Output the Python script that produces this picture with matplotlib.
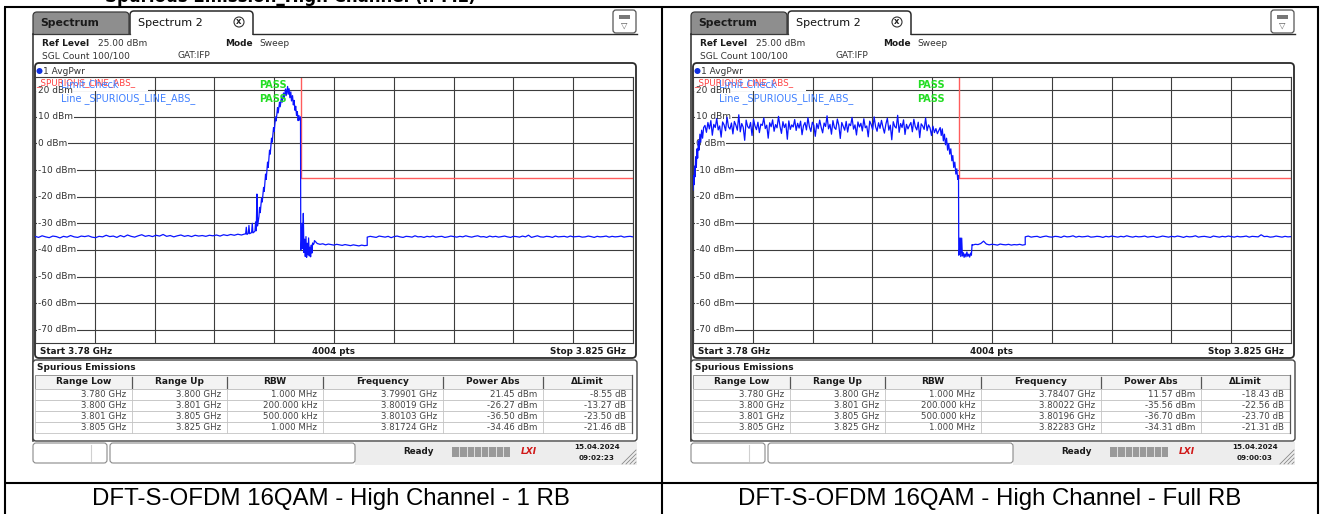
import numpy as np
import matplotlib.pyplot as plt
from matplotlib.patches import FancyBboxPatch, Rectangle, Circle
from matplotlib.transforms import blended_transform_factory

plt.rcParams['font.family'] = ['DejaVu Sans']

W, H = 1320, 514
F0, F1 = 3.780, 3.825          # GHz, start / stop
REF, BOTTOM = 25, -75          # dBm, top / bottom of grid
DB_TICKS = list(range(20, -80, -10))

captions = ['DFT-S-OFDM 16QAM - High Channel - 1 RB',
            'DFT-S-OFDM 16QAM - High Channel - Full RB']

# -- limit line _SPURIOUS_LINE_ABS_ --
lim_f = [3.780, 3.800, 3.800, 3.825]
lim_l = [30, 30, -13, -13]

# -- table (same ranges both screens) --
col_names = ['Range Low', 'Range Up', 'RBW', 'Frequency', 'Power Abs', '\u0394Limit']
range_low = ['3.780 GHz', '3.800 GHz', '3.801 GHz', '3.805 GHz']
range_up = ['3.800 GHz', '3.801 GHz', '3.805 GHz', '3.825 GHz']
rbw = ['1.000 MHz', '200.000 kHz', '500.000 kHz', '1.000 MHz']

rb1_peak_freq = ['3.79901 GHz', '3.80019 GHz', '3.80103 GHz', '3.81724 GHz']
rb1_power = [21.45, -26.27, -36.50, -34.46]
rb1_delta = [-8.55, -13.27, -23.50, -21.46]

full_peak_freq = ['3.78407 GHz', '3.80022 GHz', '3.80196 GHz', '3.82283 GHz']
full_power = [11.57, -35.56, -36.70, -34.31]
full_delta = [-18.43, -22.56, -23.70, -21.31]

# -- 1 RB trace --
rb1_floor_lo = [-34.9, -35.3, -34.7, -35.1, -35.4, -34.8, -35.0, -35.5, -34.9, -35.2,
                -34.6, -35.1, -35.3, -34.8, -35.0, -34.7, -35.2, -35.4, -34.9, -35.1,
                -34.5, -35.0, -34.8, -35.3, -34.6, -35.1, -34.4, -34.9, -35.2, -34.7,
                -34.3, -34.9, -34.6, -35.0, -34.5, -34.8, -34.2, -34.9, -34.6, -35.1,
                -34.7, -34.4, -34.9, -34.6, -35.0, -34.5, -34.8, -34.6, -34.9, -34.5,
                -34.7, -34.4, -34.8, -34.3, -34.6, -34.2, -34.5, -34.1, -34.4, -34.0]
rb1_edge_f = [3.79585, 3.79590, 3.79595, 3.79605, 3.79610, 3.79615, 3.79630, 3.79635,
              3.79640, 3.79655, 3.79660, 3.79665, 3.79670, 3.79675, 3.79685, 3.79690,
              3.79695, 3.79705, 3.79710, 3.79720, 3.79725, 3.79735, 3.79740, 3.79750,
              3.79755, 3.79765, 3.79770, 3.79780, 3.79785, 3.79795, 3.79800, 3.79810,
              3.79815, 3.79825, 3.79830, 3.79840, 3.79845, 3.79855, 3.79860, 3.79870,
              3.79875, 3.79885, 3.79890, 3.79901, 3.79905, 3.79912, 3.79918, 3.79925,
              3.79930, 3.79938, 3.79944, 3.79950, 3.79956, 3.79962, 3.79968, 3.79974,
              3.79980, 3.79986, 3.79992, 3.79998, 3.80000, 3.80005, 3.80010, 3.80015,
              3.80019, 3.80024, 3.80029, 3.80034, 3.80039, 3.80044, 3.80049, 3.80054,
              3.80059, 3.80064, 3.80069, 3.80074, 3.80079, 3.80084, 3.80089, 3.80095,
              3.80100]
rb1_edge_l = [-34.0, -31.5, -34.2, -33.8, -30.8, -33.9, -33.5, -30.0,
              -33.6, -33.0, -29.5, -32.8, -19.0, -31.0, -27.5, -24.0,
              -26.0, -20.5, -22.0, -16.5, -18.0, -11.5, -13.5, -7.0,
              -9.0, -2.5, -4.0, 2.0, 0.5, 6.0, 4.5, 10.0,
              8.5, 13.5, 11.5, 15.5, 13.8, 17.5, 15.5, 19.0,
              17.0, 20.5, 18.0, 21.45, 18.5, 20.6, 17.2, 19.4,
              16.0, 18.0, 14.5, 16.2, 12.5, 14.0, 10.5, 12.0,
              8.6, 10.5, 8.8, 10.0, -40.0, -38.5, -30.0, -39.5,
              -26.27, -41.0, -36.0, -42.5, -35.0, -42.8, -37.5, -41.8,
              -35.5, -42.3, -39.0, -42.6, -38.2, -41.2, -37.4, -38.0,
              -37.5]
rb1_mid = [-36.5, -37.6, -37.9, -37.7, -38.1, -37.8, -38.0, -38.2, -37.9, -38.1,
           -38.3, -38.0, -38.2, -38.4, -38.1, -38.3, -38.5, -38.2, -38.4, -38.3]
rb1_floor_hi = [-35.2, -34.9, -35.1, -35.3, -34.8, -35.0, -35.2, -34.9, -35.4, -35.0,
                -34.8, -35.1, -35.3, -34.9, -35.0, -35.2, -34.7, -35.1, -35.0, -35.3,
                -34.9, -35.1, -34.8, -35.2, -35.0, -34.9, -35.3, -35.1, -34.8, -35.0,
                -35.2, -34.9, -35.1, -34.7, -35.0, -35.2, -34.9, -34.7, -35.1, -35.0,
                -35.3, -34.8, -35.1, -34.9, -35.2, -35.0, -34.8, -35.1, -35.3, -34.9,
                -35.0, -35.2, -34.8, -35.1, -34.46, -35.3, -35.0, -34.7, -35.1, -35.2,
                -34.9, -35.0, -35.3, -34.8, -35.1, -35.0, -34.9, -35.2, -34.8, -35.1,
                -35.0, -34.9, -35.2, -35.1, -34.8, -35.0, -35.3, -34.9, -35.1, -35.0,
                -34.8, -35.2, -34.9, -35.1, -35.0, -34.8, -35.2, -35.0, -34.9, -35.1]

# -- Full RB trace --
full_rise_f = [3.78000, 3.78004, 3.78008, 3.78012, 3.78016, 3.78020, 3.78025, 3.78030,
               3.78035, 3.78040, 3.78045, 3.78052, 3.78058, 3.78065, 3.78072, 3.78080]
full_rise_l = [-17.5, -12.0, -15.5, -8.5, -12.5, -5.0, -9.0, -2.0,
               -5.5, 1.0, -2.5, 3.5, 0.5, 5.0, 2.0, 6.0]
full_plateau = [6.8, 4.2, 7.9, 5.5, 8.6, 3.1, 7.2, 6.0, 9.4, 5.1, 6.6, 2.4, 8.1, 7.0, 4.8, 9.9, 6.2, 5.4, 7.7, 3.6,
                8.3, 6.9, 5.0, 10.8, 4.4, 7.5, 6.1, 1.2, 8.8, 6.4, 5.7, 7.9, 3.0, 9.1, 6.6, 5.2, 8.0, 4.1, 7.3, 6.8,
                9.6, 5.6, 6.9, 2.0, 7.8, 6.3, 8.9, 4.6, 7.1, 5.9, 10.2, 6.5, 3.8, 8.2, 6.0, 7.4, 1.6, 8.5, 5.3, 7.0,
                6.2, 9.0, 4.9, 7.6, 5.8, 8.4, 3.3, 6.7, 7.9, 5.1, 9.7, 6.3, 4.5, 8.0, 6.9, 2.7, 7.5, 5.6, 8.8, 6.1,
                4.0, 7.7, 6.4, 10.4, 5.5, 7.2, 3.5, 8.6, 6.0, 5.3, 9.2, 6.8, 1.9, 7.9, 6.5, 5.0, 8.3, 4.3, 7.4, 6.7,
                9.8, 5.4, 7.0, 3.2, 8.1, 6.2, 7.6, 4.7, 9.3, 5.9, 6.6, 2.5, 8.4, 7.1, 5.2, 10.0, 6.3, 4.6, 7.8, 5.7,
                8.7, 6.1, 3.9, 7.3, 9.5, 5.0, 6.9, 1.4, 8.2, 6.4, 5.8, 10.6, 4.2, 7.5, 6.0, 8.9, 3.4, 7.2, 5.5, 6.8,
                7.9, 4.4, 9.1, 6.3, 5.1, 8.0, 2.2, 7.4, 6.6, 5.3, 9.6, 4.8, 7.0, 5.9, 3.0, 6.5, 4.1, 5.6, 3.7, 4.9]
full_fall_f = [3.79860, 3.79868, 3.79876, 3.79884, 3.79892, 3.79900, 3.79908, 3.79916,
               3.79924, 3.79932, 3.79940, 3.79948, 3.79955, 3.79962, 3.79970, 3.79978,
               3.79985, 3.79992, 3.79998, 3.80000, 3.80005, 3.80010, 3.80015, 3.80022,
               3.80027, 3.80033, 3.80040, 3.80047, 3.80054, 3.80061, 3.80068, 3.80075,
               3.80082, 3.80089, 3.80095, 3.80100]
full_fall_l = [6.0, 3.0, 5.5, 1.0, 3.5, -0.5, 2.0, -2.5,
               0.0, -4.0, -2.0, -6.5, -4.5, -9.0, -7.0, -11.5,
               -9.5, -13.5, -12.0, -42.0, -41.0, -35.5, -42.5, -35.56,
               -42.3, -41.0, -42.8, -41.5, -42.6, -40.8, -42.4, -41.6,
               -42.7, -41.2, -42.0, -38.0]
full_mid = [-38.2, -37.9, -38.0, -37.6, -36.7, -37.8, -38.1, -37.9, -38.0, -38.2,
            -37.8, -38.0, -38.1, -37.9, -38.2, -38.0, -38.1, -37.9, -38.2, -38.0]
full_floor_hi = [-35.1, -34.8, -35.2, -35.0, -34.9, -35.3, -35.0, -34.8, -35.1, -35.2,
                 -34.9, -35.0, -35.3, -34.8, -35.1, -35.0, -34.7, -35.2, -34.9, -35.1,
                 -35.0, -34.8, -35.2, -35.1, -34.9, -35.0, -35.3, -34.9, -35.1, -34.8,
                 -35.0, -35.2, -34.9, -35.1, -34.7, -35.0, -35.2, -34.9, -35.1, -35.0,
                 -34.8, -35.2, -35.0, -34.9, -35.3, -35.1, -34.8, -35.0, -35.2, -34.9,
                 -35.1, -34.8, -35.0, -35.3, -34.9, -35.1, -35.0, -34.7, -35.2, -35.0,
                 -34.9, -35.1, -35.3, -34.8, -35.0, -35.2, -34.9, -35.1, -34.8, -35.0,
                 -35.2, -34.9, -35.1, -35.0, -34.8, -35.2, -34.9, -35.0, -35.1, -34.31,
                 -35.0, -34.9, -35.2, -35.1, -34.8, -35.0, -35.2, -34.9, -35.1, -35.0]

rb1_freq = np.concatenate([np.linspace(3.780, 3.7958, len(rb1_floor_lo)), rb1_edge_f,
                           np.linspace(3.80103, 3.805, len(rb1_mid)),
                           np.linspace(3.805, 3.825, len(rb1_floor_hi))])
rb1_level = np.concatenate([rb1_floor_lo, rb1_edge_l, rb1_mid, rb1_floor_hi])

full_freq = np.concatenate([full_rise_f, np.linspace(3.7809, 3.7985, len(full_plateau)), full_fall_f,
                            np.linspace(3.80103, 3.805, len(full_mid)),
                            np.linspace(3.805, 3.825, len(full_floor_hi))])
full_level = np.concatenate([full_rise_l, full_plateau, full_fall_l, full_mid, full_floor_hi])

# -- figure, pixel-coordinate background axes --
fig = plt.figure(figsize=(W / 100, H / 100), dpi=100)
bg = fig.add_axes([0, 0, 1, 1])
bg.set_xlim(0, W)
bg.set_ylim(H, 0)
bg.axis('off')

DARK = '#2a2a2a'
TXT = '#333333'


def rbox(x, y, w, h, fc, ec, lw=1.0, r=3, z=1):
    bg.add_patch(FancyBboxPatch((x, y), w, h, boxstyle='round,pad=0,rounding_size=%g' % r,
                                fc=fc, ec=ec, lw=lw, zorder=z))


def draw_screen(ox, freq, level, peak_freq, power, delta, date, clock):
    # -- tabs --
    rbox(ox + 33, 12, 96, 28, '#8e8e8e', '#3a3a3a', 0.9, 4, 1)
    rbox(ox + 130, 11, 123, 30, 'white', DARK, 1.1, 4, 1)
    bg.add_patch(Rectangle((ox + 32, 34.6), 607, 432, fc='white', ec='none', zorder=2))
    bg.plot([ox + 33, ox + 130], [34, 34], color='#3a3a3a', lw=0.9, zorder=3)
    bg.plot([ox + 253, ox + 637], [34, 34], color=DARK, lw=1.0, zorder=3)
    bg.plot([ox + 33, ox + 33], [34, 441], color=DARK, lw=1.1, zorder=3)
    bg.text(ox + 40, 23.5, 'Spectrum', fontsize=7.8, fontweight='bold', color='#1a1a1a',
            va='center', zorder=3)
    bg.text(ox + 138, 23, 'Spectrum 2', fontsize=8, color='#111111', va='center', zorder=3)
    bg.add_patch(Circle((ox + 239, 22), 5, fc='white', ec='#333333', lw=0.8, zorder=3))
    bg.text(ox + 239, 21.5, 'x', fontsize=6, fontweight='bold', color='#222222',
            ha='center', va='center', zorder=4)
    # icon top right
    rbox(ox + 613, 10, 23, 23, 'white', '#555555', 0.9, 3, 3)
    bg.add_patch(Rectangle((ox + 619, 15), 11, 4, fc='#777777', ec='none', zorder=4))
    bg.text(ox + 624.5, 25, '\u25bd', fontsize=6, color='#555555', ha='center', va='center', zorder=4)

    # -- header --
    hd = dict(fontsize=6.5, va='center', zorder=3)
    bg.text(ox + 42, 43, 'Ref Level', fontweight='bold', color='#1a1a1a', **hd)
    bg.text(ox + 98, 43, '25.00 dBm', color=TXT, **hd)
    bg.text(ox + 225, 43, 'Mode', fontweight='bold', color='#1a1a1a', **hd)
    bg.text(ox + 259, 43, 'Sweep', color=TXT, **hd)
    bg.text(ox + 42, 56, 'SGL Count 100/100', color=TXT, **hd)
    bg.text(ox + 178, 56, 'GAT:IFP', color=TXT, **hd)

    # -- diagram frame --
    rbox(ox + 35, 63, 601, 295, 'white', DARK, 1.3, 4, 3)
    bg.add_patch(Circle((ox + 39.5, 71), 3, fc='#1030e0', ec='none', zorder=4))
    bg.text(ox + 43, 71, '1 AvgPwr', color=TXT, **hd)

    ax = fig.add_axes([(ox + 35) / W, (H - 343) / H, 598 / W, 266 / H])
    ax.set_xlim(F0, F1)
    ax.set_ylim(BOTTOM, REF)
    ax.set_xticks(np.linspace(F0, F1, 11))
    ax.set_yticks(DB_TICKS)
    ax.tick_params(length=0, labelbottom=False, labelleft=False)
    ax.set_axisbelow(True)
    ax.grid(True, color='#3c3c3c', lw=0.8)
    for s in ax.spines.values():
        s.set_color('#3c3c3c')
        s.set_linewidth(0.8)

    px = bg.transData
    ylab = blended_transform_factory(bg.transData, ax.transData)
    ax.add_patch(Rectangle((ox + 35, 77.6), 113, 13, transform=px, fc='white', ec='none', zorder=1))
    for v in DB_TICKS:
        ax.text(ox + 38, v, '%d dBm' % v, transform=ylab, fontsize=6.5, color=TXT, va='center',
                zorder=2, bbox=dict(fc='white', ec='none', pad=0.4))
    ax.text(ox + 36, 82.5, '_SPURIOUS_LINE_ABS_', transform=px, fontsize=6.3, color='#ff4040',
            va='center', zorder=2)
    ax.plot(lim_f, lim_l, color='#ff5c5c', lw=1.0, zorder=2.5)
    ax.plot(freq, level, color='#0a14ff', lw=0.9, zorder=3)
    lab = dict(transform=px, fontsize=7, va='center', zorder=4)
    ax.text(ox + 61, 84.5, 'Limit Check', color='#4080ff', **lab)
    ax.text(ox + 61, 98.5, 'Line _SPURIOUS_LINE_ABS_', color='#4080ff', **lab)
    ax.text(ox + 259, 84.5, 'PASS', color='#22dd22', fontweight='bold', **lab)
    ax.text(ox + 259, 98.5, 'PASS', color='#22dd22', fontweight='bold', **lab)

    ft = dict(fontsize=6.3, fontweight='bold', color='#1a1a1a', va='center', zorder=4)
    bg.text(ox + 40, 351, 'Start 3.78 GHz', **ft)
    bg.text(ox + 333, 351, '4004 pts', ha='center', **ft)
    bg.text(ox + 626, 351, 'Stop 3.825 GHz', ha='right', **ft)

    # -- spurious emissions table --
    rbox(ox + 33, 360, 604, 81, 'white', '#444444', 1.0, 3, 3)
    bg.text(ox + 37, 367, 'Spurious Emissions', fontsize=6.5, fontweight='bold', color='#1a1a1a',
            va='center', zorder=4)
    col_x = [35, 132, 227, 323, 443, 543, 632]
    bg.add_patch(Rectangle((ox + 35, 375), 597, 14, fc='#f3f3f3', ec='#8a8a8a', lw=0.6, zorder=4))
    for i, name in enumerate(col_names):
        bg.text(ox + (col_x[i] + col_x[i + 1]) / 2, 382, name, fontsize=6.5, fontweight='bold',
                color='#1a1a1a', ha='center', va='center', zorder=5)
    for cx in col_x[1:-1]:
        bg.plot([ox + cx, ox + cx], [377, 388], color='#555555', lw=0.9, zorder=5)
    bg.plot([ox + 632, ox + 632], [375, 433], color='#555555', lw=0.9, zorder=5)
    cells = [range_low, range_up, rbw, peak_freq,
             ['%.2f dBm' % p for p in power], ['%.2f dB' % d for d in delta]]
    for r in range(4):
        y0 = 389 + r * 11
        bg.add_patch(Rectangle((ox + 35, y0), 597, 11, fc='white', ec='#c4c4c4', lw=0.6, zorder=4))
        for c in range(6):
            bg.text(ox + col_x[c + 1] - 6, y0 + 5.6, cells[c][r], fontsize=6.2, color='#444444',
                    ha='right', va='center', zorder=5)
    for cx in col_x[1:-1]:
        bg.plot([ox + cx, ox + cx], [389, 433], color='#c4c4c4', lw=0.6, zorder=5)

    # -- status bar --
    bg.add_patch(Rectangle((ox + 355, 442), 282, 23, fc='#ededed', ec='none', zorder=3))
    rbox(ox + 33, 443, 74, 20, 'white', '#8a8a8a', 0.8, 3, 4)
    bg.plot([ox + 91, ox + 91], [445, 461], color='#d0d0d0', lw=0.8, zorder=5)
    rbox(ox + 110, 443, 245, 20, 'white', '#8a8a8a', 0.8, 3, 4)
    bg.text(ox + 403, 452, 'Ready', fontsize=6.3, fontweight='bold', color='#1a1a1a', va='center', zorder=5)
    bg.add_patch(Rectangle((ox + 452, 447), 58, 10, fc='#9a9a9a', ec='none', zorder=5))
    for k in range(1, 8):
        bg.plot([ox + 452 + k * 7.25] * 2, [447, 457], color='#ededed', lw=0.6, zorder=6)
    bg.text(ox + 529, 452, 'LXI', fontsize=6.5, fontweight='bold', fontstyle='italic', color='#d01818',
            ha='center', va='center', zorder=5)
    bg.text(ox + 597, 447, date, fontsize=5.2, fontweight='bold', color='#1a1a1a', ha='center',
            va='center', zorder=5)
    bg.text(ox + 597, 458, clock, fontsize=5.2, fontweight='bold', color='#1a1a1a', ha='center',
            va='center', zorder=5)
    for k in range(4):
        bg.plot([ox + 622 + k * 4, ox + 636], [464, 450 + k * 4], color='#888888', lw=0.6, zorder=5)


draw_screen(0, rb1_freq, rb1_level, rb1_peak_freq, rb1_power, rb1_delta, '15.04.2024', '09:02:23')
draw_screen(658, full_freq, full_level, full_peak_freq, full_power, full_delta, '15.04.2024', '09:00:03')

# -- outer table lines and captions --
ln = dict(color='black', lw=1.5, zorder=10, solid_capstyle='butt')
bg.plot([4, 1319], [7, 7], **ln)
bg.plot([4, 1319], [483, 483], **ln)
for x in [5, 662, 1318]:
    bg.plot([x, x], [7, 514], **ln)
# title of the page above, cut off by the crop
bg.text(290, 2, 'Spurious Emission_High Channel (n-ML)', fontsize=12, fontweight='bold',
        ha='center', va='baseline', zorder=10)
for cx, cap in zip([331, 990], captions):
    bg.text(cx, 499, cap, fontsize=17.3, family='Liberation Sans', ha='center', va='center', zorder=10)

fig.savefig('out.png', dpi=100)
